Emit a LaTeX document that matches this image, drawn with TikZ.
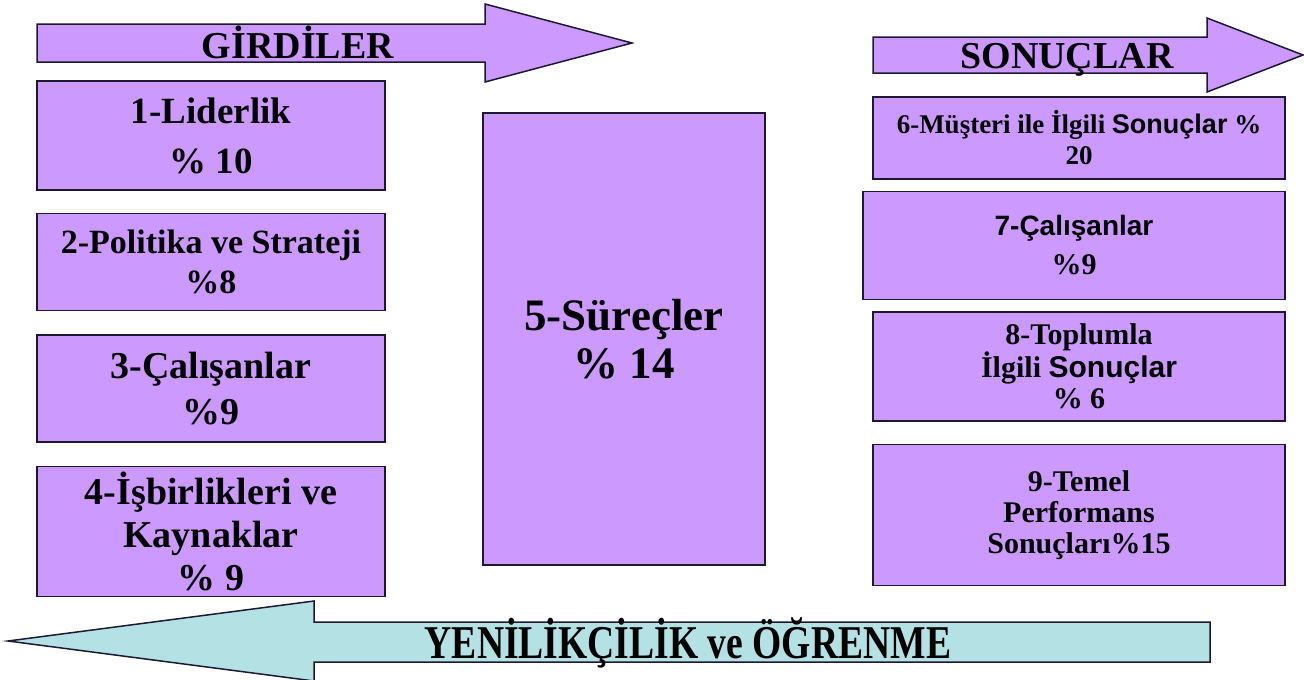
\documentclass[tikz,border=0pt]{standalone}
\usepackage{fontspec}
\setmainfont{Liberation Serif}
\newfontfamily\sansf{Liberation Sans}
\newfontfamily\narrowf{Liberation Serif}[FakeStretch=0.8]
\usetikzlibrary{positioning}
\definecolor{critfill}{RGB}{204,153,255}
\definecolor{learnfill}{RGB}{180,225,228}
\definecolor{edgeline}{RGB}{30,25,50}
\tikzstyle{crit} = [rectangle, draw=edgeline, line width=1.5pt, fill=critfill, align=center, inner sep=0pt]
\tikzstyle{bigarrow} = [draw=edgeline, line width=1.5pt, fill=critfill]
\tikzstyle{banner} = [inner sep=0pt, anchor=base, font=\bfseries\fontsize{38}{44}\selectfont]

\begin{document}
\begin{tikzpicture}[x=1pt, y=-1pt]
    \useasboundingbox (0,0) rectangle (1304,680);

    % arrows
    \draw [bigarrow] (37,24) -- (485,24) -- (485,4) -- (632,43) -- (485,82) -- (485,62) -- (37,62) -- cycle;
    \draw [bigarrow] (873,37) -- (1207,37) -- (1207,18) -- (1303,55) -- (1207,92) -- (1207,73) -- (873,73) -- cycle;
    \draw [bigarrow, fill=learnfill] (1210,622) -- (314,622) -- (314,601) -- (8,641) -- (314,681) -- (314,662) -- (1210,662) -- cycle;
    \node (girdi) [banner] at (298,58) {GİRDİLER};
    \node (sonuc) [banner] at (1067,68) {SONUÇLAR};
    \node (ogren) [banner, font=\narrowf\bfseries\fontsize{47}{50}\selectfont] at (688,658) {YENİLİKÇİLİK ve ÖĞRENME};

    % girdiler
    \node (lider) [crit, minimum width=348pt, minimum height=109pt, font=\bfseries\fontsize{37}{50}\selectfont] at (211,135.5) {1-Liderlik\\\% 10};
    \node (strateji) [crit, below=22pt of lider, minimum width=348pt, minimum height=97pt, font=\bfseries\fontsize{34}{40}\selectfont] {2-Politika ve Strateji\\\%8};
    \node (calisan) [crit, below=23pt of strateji, minimum width=348pt, minimum height=107pt, font=\bfseries\fontsize{38}{46}\selectfont] {3-Çalışanlar\\\%9};
    \node (kaynak) [crit, below=23pt of calisan, minimum width=348pt, minimum height=130pt, font=\bfseries\fontsize{38}{43}\selectfont] {4-İşbirlikleri ve\\Kaynaklar\\\% 9};
    \node (surec) [crit, minimum width=282pt, minimum height=452pt, font=\bfseries\fontsize{45}{48}\selectfont] at (624,339) {5-Süreçler\\\% 14};

    % sonuclar
    \node (musteri) [crit, minimum width=412pt, minimum height=82pt, font=\bfseries\fontsize{27}{31}\selectfont] at (1079,138) {6-Müşteri ile İlgili {\sansf Sonuçlar} \%\\20};
    \node (calsonuc) [crit, below=11pt of musteri, xshift=-5pt, minimum width=422pt, minimum height=108pt, font=\bfseries\fontsize{30}{39}\selectfont] {{\sansf\fontsize{28}{39}\selectfont 7-Çalışanlar}\\\%9};
    \node (toplum) [crit, below=11pt of calsonuc, xshift=5pt, minimum width=412pt, minimum height=109pt, font=\bfseries\fontsize{30}{31}\selectfont] {8-Toplumla\\İlgili {\sansf Sonuçlar}\\\% 6};
    \node (temel) [crit, below=22pt of toplum, minimum width=412pt, minimum height=141pt, font=\bfseries\fontsize{30}{31}\selectfont] {9-Temel\\Performans\\Sonuçları\%15};

\end{tikzpicture}
\end{document}
